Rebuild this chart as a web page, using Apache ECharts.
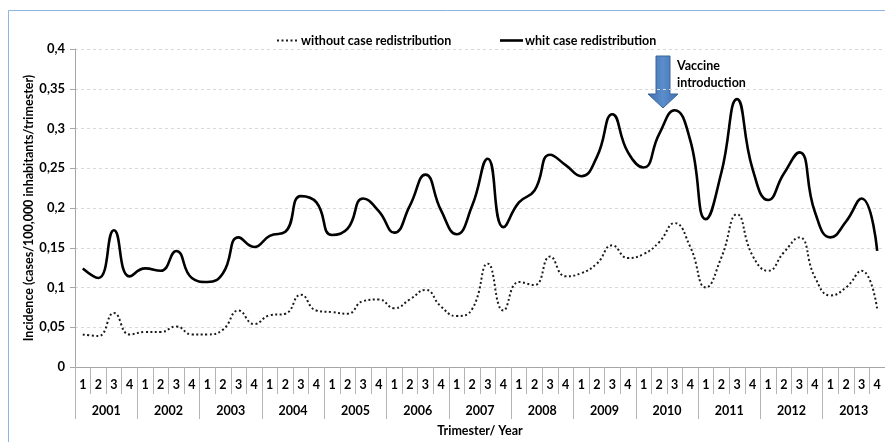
<!DOCTYPE html>
<html>
<head>
<meta charset="utf-8">
<script src="https://cdn.jsdelivr.net/npm/echarts@6/dist/echarts.min.js"></script>
<style>
  html, body { margin: 0; padding: 0; background: #fff; }
  #chart { width: 885px; height: 442px; }
</style>
</head>
<body>
<div id="chart"></div>
<script>
// years and trimesters of the two-level category axis
var years = ['2001', '2002', '2003', '2004', '2005', '2006', '2007', '2008', '2009', '2010', '2011', '2012', '2013'];
var trimesters = ['1', '2', '3', '4'];
var seriesNames = ['without case redistribution', 'whit case redistribution'];

// incidence, one value per trimester
var withoutRedist = [
    0.041, 0.039, 0.068, 0.041,
    0.044, 0.044, 0.051, 0.041,
    0.041, 0.047, 0.071, 0.054,
    0.065, 0.067, 0.091, 0.071,
    0.069, 0.067, 0.083, 0.085,
    0.074, 0.085, 0.097, 0.076,
    0.064, 0.073, 0.130, 0.071,
    0.107, 0.103, 0.139, 0.114,
    0.118, 0.130, 0.153, 0.137,
    0.142, 0.157, 0.181, 0.151,
    0.100, 0.138, 0.192, 0.140,
    0.121, 0.144, 0.163, 0.113,
    0.090, 0.100, 0.121, 0.073
];
var withRedist = [
    0.124, 0.112, 0.172, 0.114,
    0.124, 0.121, 0.146, 0.112,
    0.107, 0.118, 0.163, 0.151,
    0.165, 0.170, 0.215, 0.207,
    0.166, 0.174, 0.212, 0.196,
    0.169, 0.203, 0.242, 0.197,
    0.167, 0.203, 0.262, 0.176,
    0.207, 0.222, 0.267, 0.254,
    0.240, 0.264, 0.318, 0.270,
    0.251, 0.293, 0.323, 0.285,
    0.186, 0.245, 0.337, 0.249,
    0.210, 0.243, 0.270, 0.195,
    0.163, 0.183, 0.212, 0.146
];

var quarterCats = [];
years.forEach(function (y) {
    trimesters.forEach(function (t) { quarterCats.push(t); });
});

var font = 'Lato, "Liberation Sans", sans-serif';
var sepColor = '#b4b4b4';
var dotted = [2, 2.5];

var myChart = echarts.init(document.getElementById('chart'));
var option = {
    animation: false,
    textStyle: { fontFamily: font },
    grid: { left: 75, top: 49, width: 814, height: 319 },
    xAxis: [
        {
            type: 'category',
            position: 'bottom',
            data: quarterCats,
            boundaryGap: true,
            axisLine: { lineStyle: { color: '#a6a6a6' } },
            axisTick: { show: true, interval: 0, length: 27, lineStyle: { color: sepColor } },
            axisLabel: { interval: 0, margin: 11, fontWeight: 'bold', fontSize: 12.5, color: '#000' },
            splitLine: { show: false }
        },
        {
            type: 'category',
            position: 'bottom',
            data: years,
            boundaryGap: true,
            name: 'Trimester/ Year',
            nameLocation: 'middle',
            nameGap: 57,
            nameMoveOverlap: false,
            nameTextStyle: { fontWeight: 'bold', fontSize: 12.5, color: '#000' },
            axisLine: { show: false },
            axisTick: { show: true, interval: 0, length: 52, lineStyle: { color: sepColor } },
            axisLabel: { interval: 0, margin: 37, fontWeight: 'bold', fontSize: 12.5, color: '#000' },
            splitLine: { show: false }
        }
    ],
    yAxis: {
        type: 'value',
        min: 0,
        max: 0.4,
        interval: 0.05,
        name: 'Incidence (cases/100,000 inhabitants/trimester)',
        nameLocation: 'middle',
        nameGap: 40,
        nameMoveOverlap: false,
        nameTextStyle: { fontWeight: 'bold', fontSize: 12.5, color: '#000' },
        axisLine: { show: true, lineStyle: { color: '#a6a6a6' } },
        axisTick: { show: true, length: 5, lineStyle: { color: '#a6a6a6' } },
        axisLabel: {
            margin: 10,
            fontWeight: 'bold',
            fontSize: 13,
            color: '#000',
            formatter: function (v) {
                return v === 0 ? '0' : String(+v.toFixed(2)).replace('.', ',');
            }
        },
        splitLine: { show: true, lineStyle: { color: '#d9d9d9', type: [3, 3] } }
    },
    series: [
        {
            name: seriesNames[0],
            type: 'line',
            xAxisIndex: 0,
            data: withoutRedist,
            smooth: 0.5,
            symbol: 'none',
            lineStyle: { color: '#1a1a1a', width: 2, type: dotted }
        },
        {
            name: seriesNames[1],
            type: 'line',
            xAxisIndex: 0,
            data: withRedist,
            smooth: 0.5,
            symbol: 'none',
            lineStyle: { color: '#000', width: 2.6 }
        }
    ],
    graphic: [
        {
            type: 'rect',
            shape: { x: 8.5, y: 10.5, width: 900, height: 450 },
            style: { fill: 'none', stroke: '#8db4e2', lineWidth: 1 },
            silent: true
        },
        // legend
        {
            type: 'line',
            shape: { x1: 277, y1: 40.5, x2: 298, y2: 40.5 },
            style: { stroke: '#1a1a1a', lineWidth: 2, lineDash: dotted }
        },
        {
            type: 'text',
            x: 301, y: 40.5,
            style: { text: seriesNames[0], font: 'bold 12.5px ' + font, fill: '#000', verticalAlign: 'middle' }
        },
        {
            type: 'line',
            shape: { x1: 500, y1: 40.5, x2: 523, y2: 40.5 },
            style: { stroke: '#000', lineWidth: 2.6 }
        },
        {
            type: 'text',
            x: 525, y: 40.5,
            style: { text: seriesNames[1], font: 'bold 12.5px ' + font, fill: '#000', verticalAlign: 'middle' }
        },
        // vaccine annotation
        {
            type: 'polygon',
            shape: { points: [[656, 56], [670, 56], [670, 94], [678, 94], [663, 108], [648, 94], [656, 94]] },
            style: {
                fill: new echarts.graphic.LinearGradient(0, 0, 1, 0, [
                    { offset: 0, color: '#3f70ae' },
                    { offset: 0.5, color: '#5b8ccb' },
                    { offset: 1, color: '#3f70ae' }
                ]),
                stroke: '#3a659a',
                lineWidth: 1
            }
        },
        {
            type: 'text',
            x: 677, y: 57,
            style: {
                text: 'Vaccine\nintroduction',
                font: 'bold 12.5px ' + font,
                fill: '#000',
                lineHeight: 17
            }
        }
    ]
};
myChart.setOption(option);
</script>
</body>
</html>
